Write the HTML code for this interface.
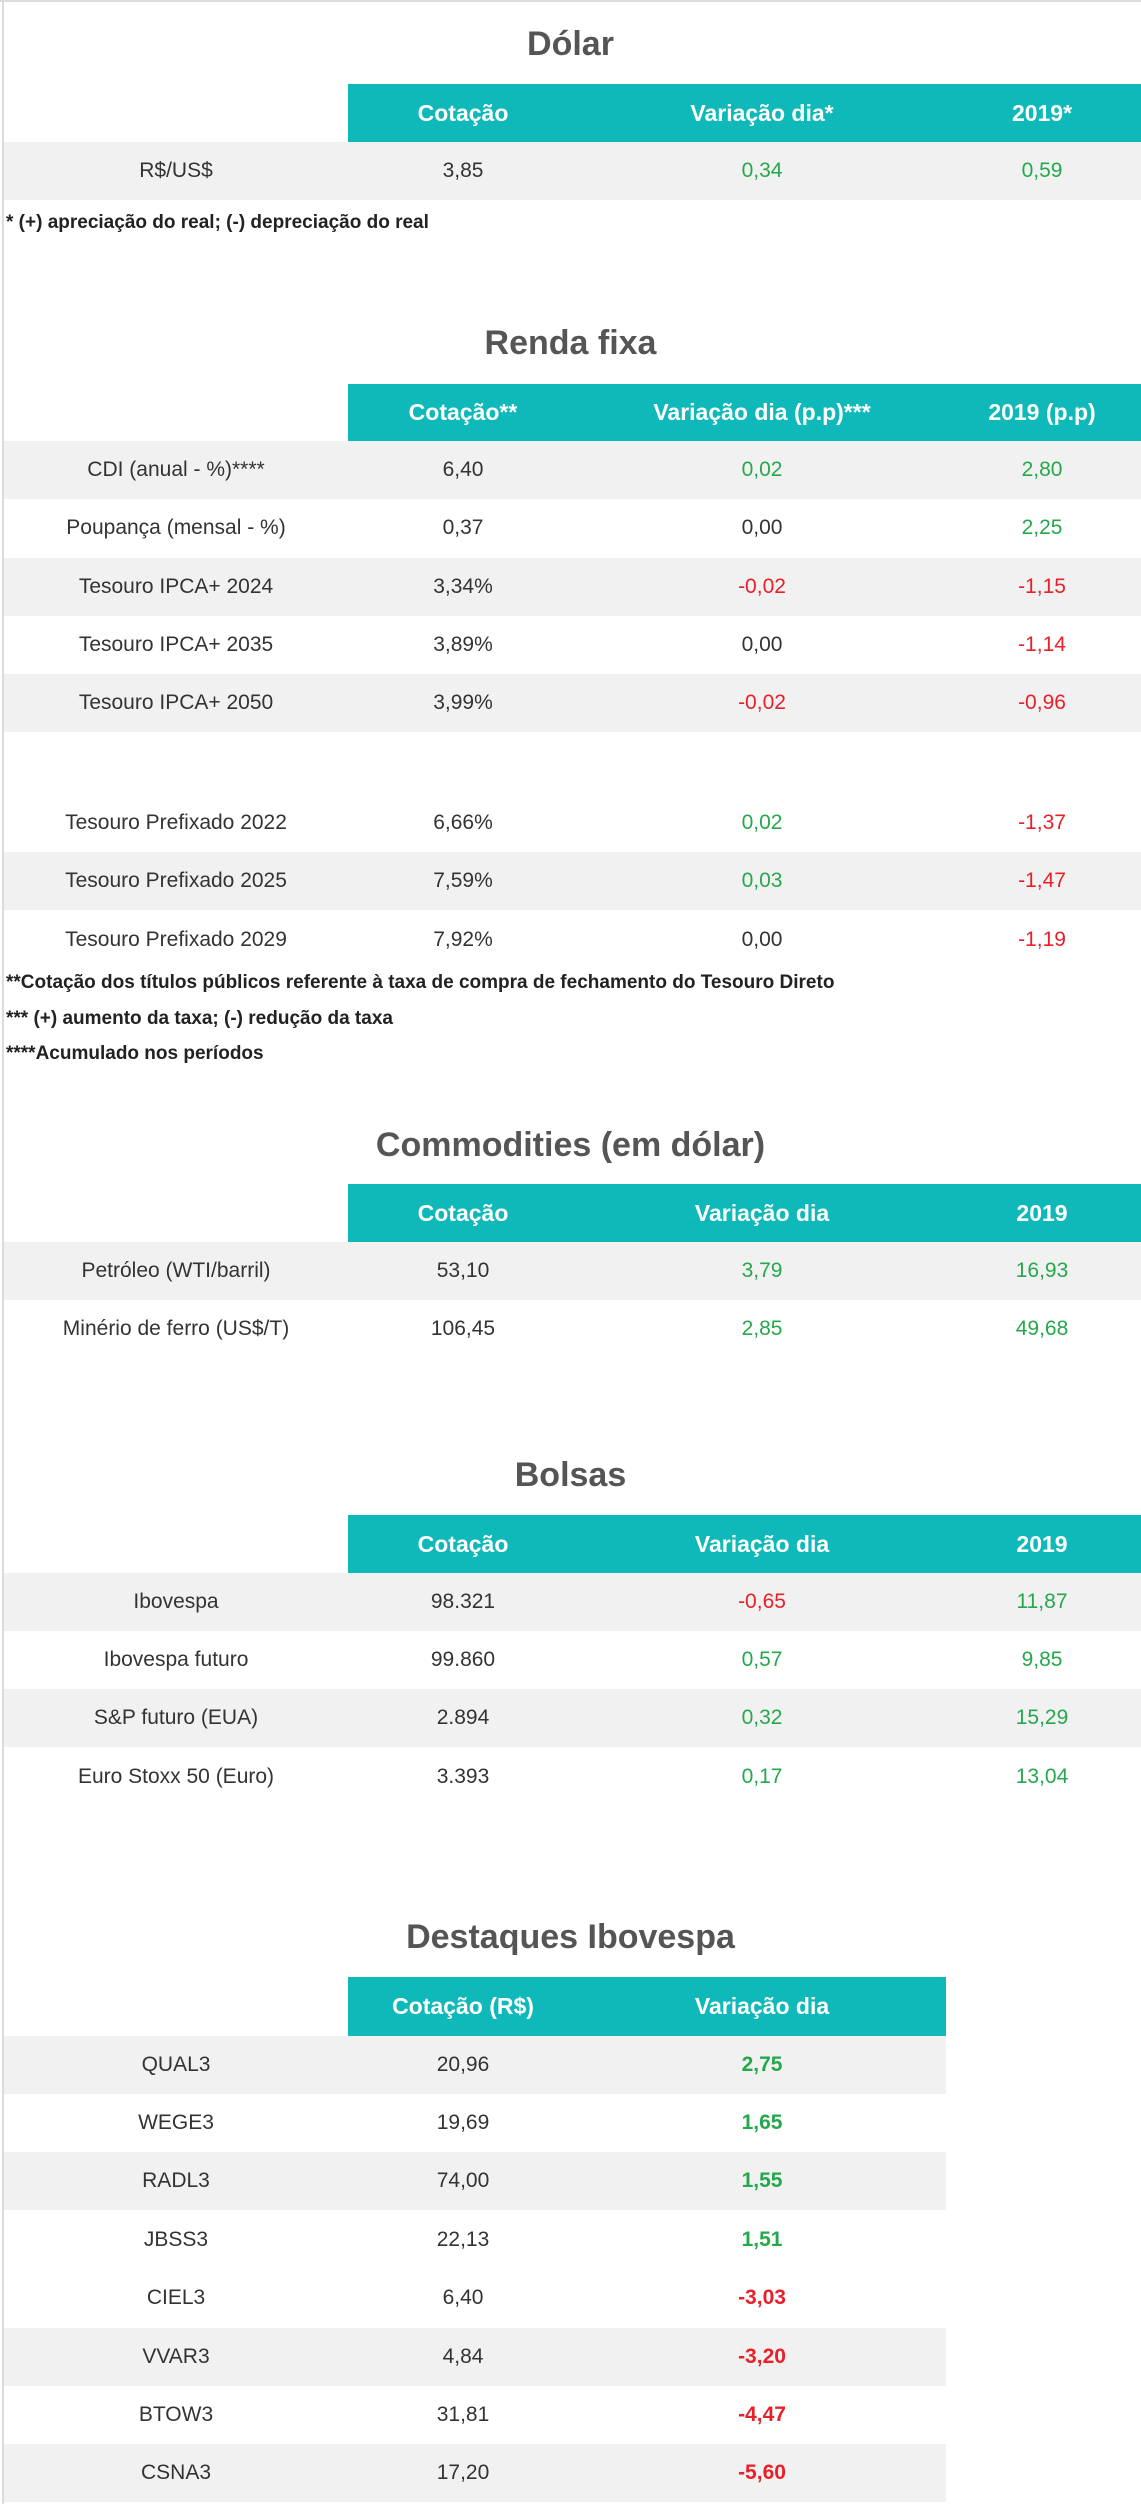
<!DOCTYPE html>
<html><head><meta charset="utf-8"><style>
*{margin:0;padding:0;box-sizing:border-box}
body{width:1141px;height:2504px;background:#fff;position:relative;overflow:hidden;font-family:"Liberation Sans",sans-serif;color:#333}
.bl{position:absolute;left:2px;top:0;width:2px;height:2504px;background:#dcdcdc}
.bt{position:absolute;left:0;top:0;width:1141px;height:2px;background:#dcdcdc}
.t{position:absolute;left:0;width:1141px;text-align:center;font-size:34px;color:#555;font-weight:bold;line-height:40px}
.r{position:absolute;left:4px;height:58px;display:flex;align-items:center;font-size:21px}
.r div{text-align:center;flex:none}
.c0{width:344px}.c1{width:230px}.c2{width:368px}.c3{width:192px}
.h{background:#0fb9b9;color:#fff;font-size:23px;font-weight:bold;left:348px}
.g{background:#f1f1f1}
.gr{color:#25a84c}.rd{color:#e8202a}
.b{font-weight:bold}
.n{position:absolute;left:6px;font-size:19px;font-weight:bold;color:#222}
</style></head><body>
<div class="bt"></div><div class="bl"></div>

<div class="t" style="top:24px">Dólar</div>
<div class="r h" style="top:84px;height:58px;width:793px"><div class="c1">Cotação</div><div class="c2">Variação dia*</div><div class="c3">2019*</div></div>
<div class="r g" style="top:142px;width:1137px"><div class="c0">R$/US$</div><div class="c1">3,85</div><div class="c2 gr">0,34</div><div class="c3 gr">0,59</div></div>
<div class="n" style="top:212px">* (+) apreciação do real; (-) depreciação do real</div>

<div class="t" style="top:323px">Renda fixa</div>
<div class="r h" style="top:384px;height:57px;width:793px"><div class="c1">Cotação**</div><div class="c2">Variação dia (p.p)***</div><div class="c3">2019 (p.p)</div></div>
<div class="r g" style="top:441px;width:1137px"><div class="c0">CDI (anual - %)****</div><div class="c1">6,40</div><div class="c2 gr">0,02</div><div class="c3 gr">2,80</div></div>
<div class="r" style="top:499px;width:1137px"><div class="c0">Poupança (mensal - %)</div><div class="c1">0,37</div><div class="c2">0,00</div><div class="c3 gr">2,25</div></div>
<div class="r g" style="top:558px;width:1137px"><div class="c0">Tesouro IPCA+ 2024</div><div class="c1">3,34%</div><div class="c2 rd">-0,02</div><div class="c3 rd">-1,15</div></div>
<div class="r" style="top:616px;width:1137px"><div class="c0">Tesouro IPCA+ 2035</div><div class="c1">3,89%</div><div class="c2">0,00</div><div class="c3 rd">-1,14</div></div>
<div class="r g" style="top:674px;width:1137px"><div class="c0">Tesouro IPCA+ 2050</div><div class="c1">3,99%</div><div class="c2 rd">-0,02</div><div class="c3 rd">-0,96</div></div>
<div class="r" style="top:794px;width:1137px"><div class="c0">Tesouro Prefixado 2022</div><div class="c1">6,66%</div><div class="c2 gr">0,02</div><div class="c3 rd">-1,37</div></div>
<div class="r g" style="top:852px;width:1137px"><div class="c0">Tesouro Prefixado 2025</div><div class="c1">7,59%</div><div class="c2 gr">0,03</div><div class="c3 rd">-1,47</div></div>
<div class="r" style="top:911px;width:1137px"><div class="c0">Tesouro Prefixado 2029</div><div class="c1">7,92%</div><div class="c2">0,00</div><div class="c3 rd">-1,19</div></div>
<div class="n" style="top:972px">**Cotação dos títulos públicos referente à taxa de compra de fechamento do Tesouro Direto</div>
<div class="n" style="top:1008px">*** (+) aumento da taxa; (-) redução da taxa</div>
<div class="n" style="top:1043px">****Acumulado nos períodos</div>

<div class="t" style="top:1125px">Commodities (em dólar)</div>
<div class="r h" style="top:1184px;height:58px;width:793px"><div class="c1">Cotação</div><div class="c2">Variação dia</div><div class="c3">2019</div></div>
<div class="r g" style="top:1242px;width:1137px"><div class="c0">Petróleo (WTI/barril)</div><div class="c1">53,10</div><div class="c2 gr">3,79</div><div class="c3 gr">16,93</div></div>
<div class="r" style="top:1300px;width:1137px"><div class="c0">Minério de ferro (US$/T)</div><div class="c1">106,45</div><div class="c2 gr">2,85</div><div class="c3 gr">49,68</div></div>

<div class="t" style="top:1455px">Bolsas</div>
<div class="r h" style="top:1515px;height:58px;width:793px"><div class="c1">Cotação</div><div class="c2">Variação dia</div><div class="c3">2019</div></div>
<div class="r g" style="top:1573px;width:1137px"><div class="c0">Ibovespa</div><div class="c1">98.321</div><div class="c2 rd">-0,65</div><div class="c3 gr">11,87</div></div>
<div class="r" style="top:1631px;width:1137px"><div class="c0">Ibovespa futuro</div><div class="c1">99.860</div><div class="c2 gr">0,57</div><div class="c3 gr">9,85</div></div>
<div class="r g" style="top:1689px;width:1137px"><div class="c0">S&amp;P futuro (EUA)</div><div class="c1">2.894</div><div class="c2 gr">0,32</div><div class="c3 gr">15,29</div></div>
<div class="r" style="top:1748px;width:1137px"><div class="c0">Euro Stoxx 50 (Euro)</div><div class="c1">3.393</div><div class="c2 gr">0,17</div><div class="c3 gr">13,04</div></div>

<div class="t" style="top:1917px">Destaques Ibovespa</div>
<div class="r h" style="top:1977px;height:59px;width:598px"><div class="c1">Cotação (R$)</div><div class="c2">Variação dia</div></div>
<div class="r g" style="top:2036px;width:942px"><div class="c0">QUAL3</div><div class="c1">20,96</div><div class="c2 gr b">2,75</div></div>
<div class="r" style="top:2094px;width:942px"><div class="c0">WEGE3</div><div class="c1">19,69</div><div class="c2 gr b">1,65</div></div>
<div class="r g" style="top:2152px;width:942px"><div class="c0">RADL3</div><div class="c1">74,00</div><div class="c2 gr b">1,55</div></div>
<div class="r" style="top:2211px;width:942px"><div class="c0">JBSS3</div><div class="c1">22,13</div><div class="c2 gr b">1,51</div></div>
<div class="r" style="top:2269px;width:942px"><div class="c0">CIEL3</div><div class="c1">6,40</div><div class="c2 rd b">-3,03</div></div>
<div class="r g" style="top:2328px;width:942px"><div class="c0">VVAR3</div><div class="c1">4,84</div><div class="c2 rd b">-3,20</div></div>
<div class="r" style="top:2386px;width:942px"><div class="c0">BTOW3</div><div class="c1">31,81</div><div class="c2 rd b">-4,47</div></div>
<div class="r g" style="top:2444px;width:942px"><div class="c0">CSNA3</div><div class="c1">17,20</div><div class="c2 rd b">-5,60</div></div>
</body></html>
